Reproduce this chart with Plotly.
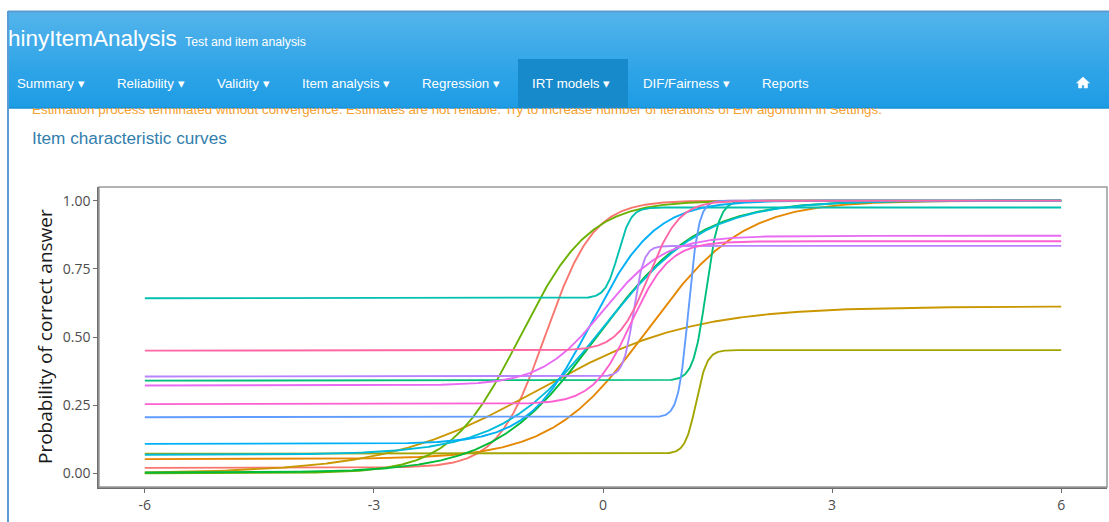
import numpy as np
import plotly.graph_objects as go

W, H = 1109, 522

# 4PL item parameters of the fitted IRT model
items = [f"Item {i}" for i in range(1, 16)]
discrimination = [3.2, 1.6, 1.0, 14.0, 2.2, 1.5, 12.0, 12.0, 1.5, 2.4, 15.0, 15.0, 2.5, 4.0, 5.0]
difficulty = [-0.75, 0.58, -0.85, 1.22, -1.09, -0.08, 1.35, 0.2, 0.0, -0.15, 1.12, 0.4, 0.0, 0.37, 0.6]
guessing = [0.02, 0.052, 0.0, 0.072, 0.0, 0.003, 0.34, 0.642, 0.068, 0.108, 0.206, 0.355, 0.322, 0.254, 0.45]
inattention = [1.0, 1.0, 0.612, 0.452, 1.0, 1.0, 1.0, 0.975, 1.0, 1.0, 1.0, 0.834, 0.871, 0.851, 1.0]
item_colors = ["#F8766D", "#E58700", "#C99800", "#A3A500", "#6BB100", "#00BA38", "#00BF7D",
               "#00C0AF", "#00BCD8", "#00B0F6", "#619CFF", "#B983FF", "#E76BF3", "#FD61D1", "#FF67A4"]

x_ticks = [-6, -3, 0, 3, 6]
y_ticks = [0.0, 0.25, 0.5, 0.75, 1.0]
y_ticklabels = ["0.00", "0.25", "0.50", "0.75", "1.00"]

nav_labels = ["Summary", "Reliability", "Validity", "Item analysis", "Regression",
              "IRT models", "DIF/Fairness", "Reports"]
nav_dropdown = [True, True, True, True, True, True, True, False]
nav_left = [15, 115, 215, 300, 420, 530, 641, 760]

warning_text = ("Estimation process terminated without convergence. Estimates are not reliable. "
                "Try to increase number of iterations of EM algorithm in Settings.")


def fx(px):
    return px / W


def fy(py):
    return 1 - py / H


theta = np.linspace(-6, 6, 1201)

fig = go.Figure()
for name, a, b, c, d, col in zip(items, discrimination, difficulty, guessing, inattention, item_colors):
    p = c + (d - c) / (1 + np.exp(-a * (theta - b)))
    fig.add_trace(go.Scatter(x=theta, y=p, mode="lines", name=name,
                             line=dict(color=col, width=1.9), hoverinfo="skip",
                             showlegend=False))

# warning message, partly hidden under the navbar (clipped by its own subplot)
fig.add_trace(go.Scatter(x=[32], y=[110.5], mode="text", text=[warning_text],
                         textposition="middle right", cliponaxis=True,
                         textfont=dict(family="Liberation Sans, Arial", size=13.4, color="#f5a130"),
                         xaxis="x2", yaxis="y2", hoverinfo="skip", showlegend=False))

shapes = []


def mix(c1, c2, t):
    return "#%02x%02x%02x" % tuple(int(round(c1[i] + (c2[i] - c1[i]) * t)) for i in range(3))


# navbar gradient
top_c, mid_c, bot_c = (0x54, 0xb4, 0xeb), (0x2f, 0xa4, 0xe7), (0x1d, 0x9c, 0xe5)
nav_top, nav_bot = 12, 108
step = 2
for y0 in range(nav_top, nav_bot, step):
    t = (y0 + step / 2 - nav_top) / (nav_bot - nav_top)
    col = mix(top_c, mid_c, t / 0.6) if t < 0.6 else mix(mid_c, bot_c, (t - 0.6) / 0.4)
    shapes.append(dict(type="rect", xref="paper", yref="paper", x0=fx(8), x1=fx(W),
                       y0=fy(y0 + step + 0.5), y1=fy(y0), fillcolor=col, line_width=0,
                       layer="below"))

# active tab
shapes.append(dict(type="rect", xref="paper", yref="paper", x0=fx(518), x1=fx(628),
                   y0=fy(108), y1=fy(59), fillcolor="#178acc", line_width=0, layer="below"))
# navbar bottom border
shapes.append(dict(type="line", xref="paper", yref="paper", x0=fx(8), x1=fx(W),
                   y0=fy(108), y1=fy(108), line=dict(color="#178acc", width=1), layer="below"))
# window frame
shapes.append(dict(type="line", xref="paper", yref="paper", x0=fx(8), x1=fx(W),
                   y0=fy(11.5), y1=fy(11.5), line=dict(color="#5b9bd5", width=2), layer="below"))
shapes.append(dict(type="line", xref="paper", yref="paper", x0=fx(8), x1=fx(8),
                   y0=fy(11), y1=0, line=dict(color="#5b9bd5", width=2), layer="below"))

# home icon
hx, hy = 1083, 83
house = (f"M {fx(hx-6.5)},{fy(hy)} L {fx(hx)},{fy(hy-6)} L {fx(hx+6.5)},{fy(hy)} "
         f"L {fx(hx+4.5)},{fy(hy)} L {fx(hx+4.5)},{fy(hy+5)} L {fx(hx+1.2)},{fy(hy+5)} "
         f"L {fx(hx+1.2)},{fy(hy+2)} L {fx(hx-1.2)},{fy(hy+2)} L {fx(hx-1.2)},{fy(hy+5)} "
         f"L {fx(hx-4.5)},{fy(hy+5)} L {fx(hx-4.5)},{fy(hy)} Z")
shapes.append(dict(type="path", xref="paper", yref="paper", path=house,
                   fillcolor="white", line=dict(color="white", width=0.5), layer="above"))

# panel border
shapes.append(dict(type="rect", xref="paper", yref="paper", x0=fx(99), x1=fx(1107),
                   y0=fy(487), y1=fy(187), line=dict(color="#9a9a9a", width=1.5),
                   fillcolor="rgba(0,0,0,0)", layer="above"))

annotations = []
page_font = "Liberation Sans, Arial, Helvetica"
annotations.append(dict(x=fx(5.5), y=fy(39), xref="paper", yref="paper", text="hinyItemAnalysis",
                        showarrow=False, xanchor="left", yanchor="middle",
                        font=dict(family=page_font, size=22.5, color="white")))
annotations.append(dict(x=fx(183), y=fy(42), xref="paper", yref="paper", text="Test and item analysis",
                        showarrow=False, xanchor="left", yanchor="middle",
                        font=dict(family=page_font, size=12.3, color="white")))
for lab, dd, x0 in zip(nav_labels, nav_dropdown, nav_left):
    annotations.append(dict(x=fx(x0), y=fy(83), xref="paper", yref="paper",
                            text=lab + (" \u25BE" if dd else ""), showarrow=False,
                            xanchor="left", yanchor="middle",
                            font=dict(family=page_font, size=13.3, color="white")))
annotations.append(dict(x=fx(30), y=fy(138), xref="paper", yref="paper",
                        text="Item characteristic curves", showarrow=False,
                        xanchor="left", yanchor="middle",
                        font=dict(family=page_font, size=17.2, color="#317eac")))
annotations.append(dict(x=fx(45), y=fy(337), xref="paper", yref="paper",
                        text="Probability of correct answer", showarrow=False, textangle=-90,
                        xanchor="center", yanchor="middle",
                        font=dict(family="Open Sans, Noto Sans", size=19, color="#1a1a1a")))

axis_font = dict(family="Open Sans, Noto Sans", size=14, color="#4d4d4d")
fig.update_layout(
    width=W, height=H,
    margin=dict(l=0, r=0, t=0, b=0),
    paper_bgcolor="white", plot_bgcolor="white",
    showlegend=False,
    shapes=shapes, annotations=annotations,
    xaxis=dict(domain=[fx(99), fx(1107)], range=[-6.6, 6.6], tickmode="array",
               tickvals=x_ticks, ticktext=[str(v) for v in x_ticks],
               showgrid=False, zeroline=False, showline=True, linecolor="#6e6e6e", linewidth=1.5,
               ticks="outside", ticklen=4, tickwidth=1.2, tickcolor="#6e6e6e",
               tickfont=axis_font, anchor="y"),
    yaxis=dict(domain=[fy(487), fy(187)], range=[-0.05, 1.05], tickmode="array",
               tickvals=y_ticks, ticktext=y_ticklabels,
               showgrid=False, zeroline=False, showline=True, linecolor="#6e6e6e", linewidth=1.5,
               ticks="outside", ticklen=4, tickwidth=1.2, tickcolor="#6e6e6e",
               tickfont=axis_font, anchor="x"),
    xaxis2=dict(domain=[0, 1], range=[0, W], visible=False, anchor="y2"),
    yaxis2=dict(domain=[fy(130), fy(108)], range=[130, 108], visible=False, anchor="x2"),
)

fig.write_html("out.html")
